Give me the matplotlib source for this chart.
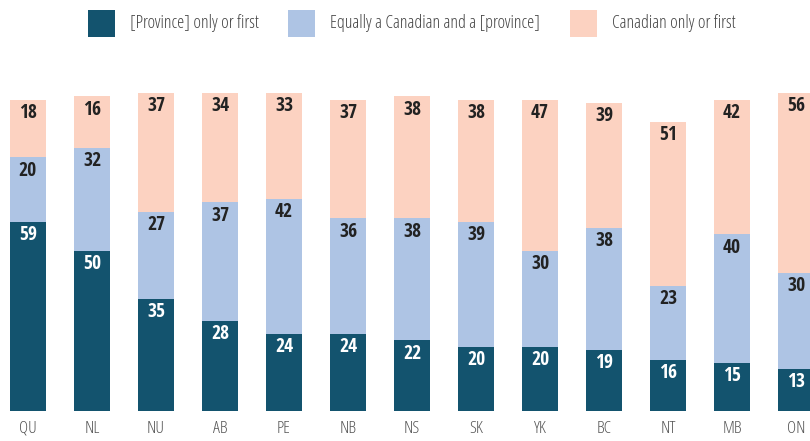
import matplotlib
matplotlib.use("Agg")
import matplotlib.pyplot as plt
from matplotlib.patches import Rectangle

plt.rcParams['font.family'] = ['Open Sans Condensed', 'DejaVu Sans']
light = dict(family="Open Sans", fontstretch="condensed", fontweight="light")

regions = ["QU", "NL", "NU", "AB", "PE", "NB", "NS", "SK", "YK", "BC", "NT", "MB", "ON"]
province_first = [59, 50, 35, 28, 24, 24, 22, 20, 20, 19, 16, 15, 13]
equally = [20, 32, 27, 37, 42, 36, 38, 39, 30, 38, 23, 40, 30]
canadian_first = [18, 16, 37, 34, 33, 37, 38, 38, 47, 39, 51, 42, 56]

series = [
    ("[Province] only or first", province_first, "#13536e", "white"),
    ("Equally a Canadian and a [province]", equally, "#aec4e4", "#222222"),
    ("Canadian only or first", canadian_first, "#fcd2c1", "#222222"),
]

W, H = 810, 441
fig = plt.figure(figsize=(W / 100, H / 100), dpi=100)
# baseline sits 30px above the bottom; 3.21 px per percentage point
ax = fig.add_axes([0, 30 / H, 1, 411 / H])
ax.set_xlim(-28 / 64, (W - 28) / 64)
ax.set_ylim(0, 411 / 3.21)

x = range(len(regions))
bottom = [0] * len(regions)
for name, vals, color, tcolor in series:
    ax.bar(x, vals, bottom=bottom, width=36 / 64, color=color, linewidth=0)
    for i, v in enumerate(vals):
        top = bottom[i] + v
        ax.text(i, top - 4.1, str(v), ha="center", va="center",
                fontsize=14, fontweight="bold", color=tcolor)
    bottom = [b + v for b, v in zip(bottom, vals)]

ax.set_xticks(list(x))
ax.set_xticklabels(regions, fontsize=12.5, color="#555555", **light)
ax.tick_params(axis="x", length=0, pad=7)
ax.set_yticks([])
for s in ax.spines.values():
    s.set_visible(False)

# legend drawn by hand across the top
leg_x = [88, 288, 570]
for (name, vals, color, tcolor), lx in zip(series, leg_x):
    fig.add_artist(Rectangle((lx / W, 1 - 37 / H), 27 / W, 27 / H,
                             transform=fig.transFigure, color=color, lw=0))
    fig.text((lx + 42) / W, 1 - 23.5 / H, name, ha="left", va="center",
             fontsize=13, color="#444444", **light)

fig.savefig("out.png", dpi=100)
